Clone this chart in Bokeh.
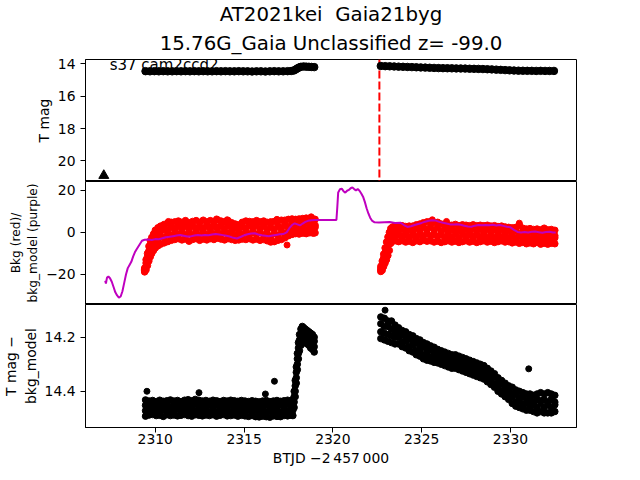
from bokeh.plotting import figure
from bokeh.layouts import column
from bokeh.models import Range1d, FixedTicker, CustomJSTickFormatter, Span, Title
from bokeh.embed import file_html
from bokeh.resources import INLINE
from bokeh.core.properties import value

# ---------------- data ----------------
title_lines = ["AT2021kei\u00a0 Gaia21byg", "15.76G_Gaia Unclassified z= -99.0"]
sector_label = "s37 cam2ccd2"
x_label = "BTJD \u22122\u2009457\u2009000"
x_ticks = [2310, 2315, 2320, 2325, 2330]
tmag_ticks = [14, 16, 18, 20]
bkg_ticks = [-20, 0, 20]
resid_ticks = [14.2, 14.4]

discovery_t = 2322.62
alert_t = [2307.1]
alert_mag = [20.9]

# Panel 1: T mag
tmag_t = [2309.45, 2309.7, 2309.95, 2310.2, 2310.45, 2310.7, 2310.95, 2311.2, 2311.45, 2311.7,
          2311.95, 2312.2, 2312.45, 2312.7, 2312.95, 2313.2, 2313.45, 2313.7, 2313.95, 2314.2,
          2314.45, 2314.7, 2314.95, 2315.2, 2315.45, 2315.7, 2315.95, 2316.2, 2316.45, 2316.7,
          2316.95, 2317.2, 2317.45, 2317.65, 2317.8, 2317.9, 2318.0, 2318.1, 2318.2, 2318.35,
          2318.5, 2318.65, 2318.8, 2318.95,
          2322.7, 2322.95, 2323.2, 2323.45, 2323.7, 2323.95, 2324.2, 2324.45, 2324.7, 2324.95,
          2325.2, 2325.45, 2325.7, 2325.95, 2326.2, 2326.45, 2326.7, 2326.95, 2327.2, 2327.45,
          2327.7, 2327.95, 2328.2, 2328.45, 2328.7, 2328.95, 2329.2, 2329.45, 2329.7, 2329.95,
          2330.2, 2330.45, 2330.7, 2330.95, 2331.2, 2331.45, 2331.7, 2331.95, 2332.2, 2332.45]
tmag = [14.46, 14.47, 14.46, 14.47, 14.46, 14.47, 14.47, 14.46, 14.47, 14.46,
        14.47, 14.46, 14.47, 14.46, 14.47, 14.47, 14.46, 14.47, 14.46, 14.47,
        14.47, 14.46, 14.47, 14.47, 14.48, 14.47, 14.47, 14.48, 14.47, 14.46,
        14.47, 14.47, 14.46, 14.45, 14.42, 14.36, 14.29, 14.23, 14.19, 14.17,
        14.18, 14.19, 14.20, 14.21,
        14.14, 14.15, 14.16, 14.17, 14.18, 14.19, 14.20, 14.21, 14.22, 14.23,
        14.24, 14.25, 14.26, 14.27, 14.275, 14.28, 14.285, 14.29, 14.295, 14.30,
        14.31, 14.315, 14.32, 14.33, 14.34, 14.35, 14.365, 14.38, 14.395, 14.41,
        14.42, 14.43, 14.435, 14.44, 14.44, 14.445, 14.44, 14.445, 14.445, 14.445]

# Panel 2: background flux (red points) per time stamp
bkg_seg1 = [
    (2309.40, -18.8, -18.2, -17.6, -17.0), (2309.48, -17.8, -16.2, -14.6, -13.0),
    (2309.56, -15.8, -13.6, -11.6, -10.0), (2309.64, -13.6, -11.2, -8.8, -6.6),
    (2309.72, -11.6, -9.0, -6.4, -4.0), (2309.80, -10.0, -7.4, -4.6, -2.4),
    (2309.90, -8.6, -5.8, -3.0, -0.8), (2310.00, -7.4, -4.6, -1.6, 1.0),
    (2310.15, -6.4, -3.0, -0.9, 2.2), (2310.30, -5.6, -2.2, 0.4, 3.0),
    (2310.50, -5.0, -2.4, 1.4, 3.8), (2310.70, -4.4, -0.8, 1.2, 4.4),
    (2310.90, -3.8, -1.4, 2.4, 4.8), (2311.10, -3.4, 0.0, 1.8, 5.0),
    (2311.30, -3.0, -0.8, 2.9, 5.4), (2311.50, -3.6, 0.2, 1.6, 4.8),
    (2311.70, -3.2, -1.0, 3.0, 5.6), (2311.90, -4.2, -0.4, 1.4, 4.6),
    (2312.10, -3.4, -1.0, 2.9, 5.2), (2312.30, -3.0, 0.6, 2.2, 5.6),
    (2312.50, -3.8, -1.4, 2.5, 4.8), (2312.70, -3.2, 0.4, 2.2, 5.8),
    (2312.90, -3.6, -1.2, 2.9, 5.0), (2313.10, -3.0, 0.6, 2.4, 5.6),
    (2313.30, -3.4, -1.0, 2.9, 5.2), (2313.50, -2.8, 0.8, 2.6, 6.0),
    (2313.70, -3.2, -0.8, 3.1, 5.4), (2313.90, -3.6, 0.0, 1.6, 5.0),
    (2314.10, -3.0, -0.6, 3.3, 5.6), (2314.30, -3.4, 0.0, 1.5, 4.6),
    (2314.50, -3.8, -1.6, 2.1, 4.0), (2314.70, -3.6, -0.4, 0.9, 3.6),
    (2314.90, -3.2, -1.0, 2.7, 4.8), (2315.10, -3.4, 0.2, 2.0, 5.4),
    (2315.30, -3.0, -0.6, 3.3, 5.2), (2315.50, -3.6, 0.0, 1.8, 5.0),
    (2315.70, -3.2, -0.8, 3.3, 5.6), (2315.90, -3.8, -0.2, 1.6, 5.0),
    (2316.10, -3.4, -1.0, 3.1, 5.4), (2316.30, -4.0, -0.4, 1.4, 4.8),
    (2316.50, -4.6, -2.0, 2.4, 5.0), (2316.70, -4.4, -0.6, 1.4, 5.2),
    (2316.90, -3.8, -1.4, 2.9, 5.4), (2317.10, -3.4, 0.2, 2.2, 5.8),
    (2317.30, -2.6, -0.4, 3.5, 5.8), (2317.50, -1.6, 1.4, 2.8, 6.2),
    (2317.70, -1.0, 0.6, 4.3, 6.4), (2317.90, -0.6, 2.2, 3.4, 6.2),
    (2318.10, -0.8, 0.8, 4.3, 6.4), (2318.30, -0.4, 2.4, 3.6, 6.6),
    (2318.50, -0.6, 1.0, 4.5, 6.8), (2318.70, -0.2, 2.6, 3.8, 6.8),
    (2318.90, -0.4, 1.2, 4.7, 6.4), (2319.00, -0.2, 2.4, 3.4, 6.2),
]
bkg_seg2 = [
    (2322.70, -18.6, -18.0, -17.2, -16.2), (2322.78, -18.0, -16.6, -15.0, -13.6),
    (2322.86, -16.2, -14.2, -12.2, -10.4), (2322.94, -14.6, -12.0, -9.6, -7.4),
    (2323.02, -13.0, -10.2, -7.2, -4.6), (2323.10, -11.0, -8.0, -5.0, -2.2),
    (2323.18, -8.6, -5.6, -2.6, 0.0), (2323.26, -5.2, -2.6, 0.0, 1.8),
    (2323.36, -4.2, -1.6, 0.6, 2.6), (2323.50, -4.0, -1.2, 1.0, 3.0),
    (2323.70, -4.4, -1.2, 0.0, 2.8), (2323.90, -4.0, -2.0, 1.6, 3.2),
    (2324.10, -4.6, -1.4, -0.2, 2.8), (2324.30, -4.2, -2.2, 1.4, 3.0),
    (2324.50, -4.8, -1.4, 0.0, 3.0), (2324.70, -4.0, -2.0, 1.8, 3.6),
    (2324.90, -4.4, -1.0, 0.6, 4.0), (2325.10, -3.8, -1.6, 2.4, 4.6),
    (2325.30, -4.2, -0.6, 1.2, 5.0), (2325.50, -4.0, -1.6, 2.6, 5.2),
    (2325.70, -4.6, -1.0, 1.0, 4.8), (2325.90, -4.2, -1.8, 2.4, 4.8),
    (2326.10, -4.8, -1.2, 0.4, 4.0), (2326.30, -4.4, -2.2, 1.6, 3.8),
    (2326.50, -4.0, -0.8, 0.6, 3.6), (2326.70, -4.6, -2.4, 1.4, 3.4),
    (2326.90, -4.2, -0.8, 0.6, 3.8), (2327.10, -4.8, -2.6, 1.2, 3.2),
    (2327.30, -4.4, -1.0, 0.4, 3.6), (2327.50, -4.0, -2.0, 1.8, 3.4),
    (2327.70, -4.6, -1.2, 0.2, 3.2), (2327.90, -4.2, -2.0, 1.8, 3.6),
    (2328.10, -4.8, -1.4, 0.0, 3.2), (2328.30, -4.4, -2.2, 1.6, 3.4),
    (2328.50, -4.0, -0.8, 0.4, 3.2), (2328.70, -4.6, -2.4, 1.4, 3.4),
    (2328.90, -4.2, -1.0, 0.4, 3.0), (2329.10, -4.8, -2.6, 1.2, 3.2),
    (2329.30, -4.4, -1.2, 0.0, 2.8), (2329.50, -4.0, -2.2, 1.4, 3.0),
    (2329.70, -4.6, -1.4, -0.2, 2.6), (2329.90, -4.4, -2.4, 1.0, 2.4),
    (2330.10, -5.0, -1.8, -0.6, 2.2), (2330.30, -4.6, -2.8, 0.8, 2.4),
    (2330.50, -5.2, -2.0, -0.6, 3.4), (2330.70, -4.8, -3.0, 0.4, 2.0),
    (2330.90, -5.4, -2.4, -1.2, 1.6), (2331.10, -5.0, -3.2, 0.4, 1.8),
    (2331.30, -5.4, -2.4, -1.4, 1.4), (2331.50, -4.8, -3.2, 0.2, 1.6),
    (2331.70, -5.6, -2.6, -1.6, 1.2), (2331.90, -5.2, -3.4, 0.0, 2.0),
    (2332.10, -5.6, -2.6, -1.6, 1.2), (2332.30, -5.2, -3.6, -0.2, 1.4),
    (2332.50, -5.4, -2.6, -1.6, 1.0),
]
bkg_extra_t = [2310.74, 2313.45, 2314.05, 2316.85, 2317.42, 2318.78, 2325.6, 2326.4, 2330.5]
bkg_extra_v = [5.2, 6.4, 6.0, 6.2, -6.0, 7.4, 6.0, 5.2, 4.4]

# Panel 2: background model (purple line)
model_t = [2307.18, 2307.22, 2307.28, 2307.36, 2307.45, 2307.55, 2307.65, 2307.75, 2307.85, 2307.95,
           2308.05, 2308.15, 2308.25, 2308.35, 2308.45, 2308.55, 2308.65, 2308.75, 2308.85, 2308.95,
           2309.1, 2309.25, 2309.4, 2309.6, 2309.8, 2310.0, 2310.2, 2310.4, 2310.6, 2310.8,
           2311.0, 2311.2, 2311.4, 2311.6, 2311.8, 2312.0, 2312.2, 2312.4, 2312.6, 2312.8,
           2313.0, 2313.2, 2313.4, 2313.6, 2313.8, 2314.0, 2314.2, 2314.4, 2314.6, 2314.8,
           2315.0, 2315.2, 2315.4, 2315.6, 2315.8, 2316.0, 2316.2, 2316.4, 2316.6, 2316.8,
           2317.0, 2317.2, 2317.4, 2317.55, 2317.7, 2317.85, 2318.0, 2318.15, 2318.3, 2318.45,
           2318.6, 2318.8, 2319.0, 2320.2, 2320.25, 2320.3, 2320.4, 2320.5, 2320.6, 2320.7,
           2320.8, 2320.9, 2321.0, 2321.1, 2321.2, 2321.3, 2321.4, 2321.5, 2321.6, 2321.7,
           2321.8, 2321.9, 2322.0, 2322.1, 2322.2, 2322.35, 2322.6, 2322.9, 2323.2, 2323.5,
           2323.8, 2324.0, 2324.2, 2324.4, 2324.6, 2324.8, 2325.0, 2325.2, 2325.4, 2325.6,
           2325.8, 2326.0, 2326.2, 2326.4, 2326.6, 2326.8, 2327.0, 2327.2, 2327.4, 2327.6,
           2327.8, 2328.0, 2328.2, 2328.4, 2328.6, 2328.8, 2329.0, 2329.2, 2329.4, 2329.6,
           2329.8, 2330.0, 2330.2, 2330.4, 2330.6, 2330.8, 2331.0, 2331.2, 2331.4, 2331.6,
           2331.8, 2332.0, 2332.2, 2332.4, 2332.55]
model_v = [-23.0, -24.3, -21.5, -21.0, -21.8, -23.5, -26.0, -28.5, -30.0, -31.0,
           -30.5, -28.0, -24.0, -20.0, -17.0, -15.5, -14.0, -11.5, -9.5, -8.0,
           -6.0, -4.0, -3.5, -3.4, -3.6, -3.2, -3.3, -2.8, -2.3, -2.1,
           -1.8, -1.5, -1.2, -1.6, -2.0, -1.9, -1.5, -1.3, -1.5, -1.2,
           -1.4, -1.0, -0.8, -1.0, -1.3, -1.6, -2.0, -2.6, -2.9, -2.2,
           -1.4, -0.9, -0.5, -0.4, -1.0, -1.4, -1.6, -1.8, -1.5, -1.2,
           -0.9, -0.8, 0.0, 2.0, 3.5, 4.3, 3.8, 3.3, 4.2, 5.0,
           5.5, 5.8, 5.9, 5.9, 12.0, 19.0, 20.5, 20.8, 19.6, 18.9,
           19.8, 20.2, 21.0, 21.4, 20.6, 20.0, 20.6, 19.8, 18.5, 17.0,
           14.5, 11.5, 9.0, 7.0, 5.6, 4.8, 4.7, 4.8, 4.9, 4.5,
           4.6, 3.5, 2.6, 2.9, 3.5, 4.0, 4.5, 5.1, 5.5, 5.8,
           5.6, 5.0, 4.6, 4.2, 3.8, 3.7, 3.9, 3.6, 3.2, 2.8,
           2.7, 3.2, 3.5, 3.4, 3.5, 3.4, 3.6, 3.3, 3.5, 3.1,
           2.7, 2.4, 1.2, 0.2, 0.0, 0.2, -0.1, 0.3, 0.4, 0.1,
           -0.2, 0.2, 0.3, -0.1, 0.0]

# Panel 3: T mag - bkg_model, per time stamp
resid_seg1 = [
    (2309.45, 14.432, 14.452, 14.472, 14.492), (2309.65, 14.436, 14.458, 14.466, 14.488),
    (2309.85, 14.434, 14.447, 14.472, 14.486), (2310.05, 14.438, 14.459, 14.470, 14.490),
    (2310.25, 14.433, 14.449, 14.474, 14.489), (2310.45, 14.437, 14.458, 14.468, 14.493),
    (2310.65, 14.435, 14.448, 14.473, 14.487), (2310.85, 14.432, 14.456, 14.467, 14.490),
    (2311.05, 14.436, 14.450, 14.475, 14.488), (2311.25, 14.434, 14.457, 14.466, 14.491),
    (2311.45, 14.438, 14.450, 14.476, 14.489), (2311.65, 14.433, 14.455, 14.465, 14.486),
    (2311.85, 14.431, 14.448, 14.474, 14.490), (2312.05, 14.435, 14.458, 14.470, 14.492),
    (2312.25, 14.430, 14.447, 14.473, 14.487), (2312.45, 14.433, 14.456, 14.467, 14.489),
    (2312.65, 14.436, 14.452, 14.476, 14.491), (2312.85, 14.434, 14.455, 14.466, 14.488),
    (2313.05, 14.437, 14.450, 14.475, 14.490), (2313.25, 14.433, 14.454, 14.466, 14.487),
    (2313.45, 14.435, 14.450, 14.476, 14.492), (2313.65, 14.438, 14.459, 14.468, 14.489),
    (2313.85, 14.434, 14.449, 14.473, 14.486), (2314.05, 14.436, 14.458, 14.470, 14.491),
    (2314.25, 14.433, 14.450, 14.475, 14.490), (2314.45, 14.435, 14.456, 14.466, 14.488),
    (2314.65, 14.437, 14.452, 14.476, 14.492), (2314.85, 14.434, 14.454, 14.467, 14.489),
    (2315.05, 14.436, 14.450, 14.475, 14.491), (2315.25, 14.438, 14.460, 14.471, 14.493),
    (2315.45, 14.435, 14.450, 14.474, 14.490), (2315.65, 14.437, 14.459, 14.470, 14.494),
    (2315.85, 14.439, 14.454, 14.479, 14.495), (2316.05, 14.436, 14.458, 14.470, 14.492),
    (2316.25, 14.434, 14.451, 14.477, 14.494), (2316.45, 14.438, 14.460, 14.472, 14.496),
    (2316.65, 14.436, 14.452, 14.476, 14.491), (2316.85, 14.434, 14.456, 14.469, 14.493),
    (2317.05, 14.437, 14.452, 14.478, 14.494), (2317.25, 14.435, 14.457, 14.469, 14.490),
    (2317.45, 14.433, 14.449, 14.474, 14.491), (2317.65, 14.436, 14.458, 14.470, 14.489),
    (2317.75, 14.430, 14.450, 14.470, 14.490), (2317.82, 14.400, 14.420, 14.440, 14.460),
    (2317.88, 14.360, 14.380, 14.400, 14.420), (2317.94, 14.310, 14.330, 14.350, 14.370),
    (2318.00, 14.260, 14.280, 14.300, 14.320), (2318.06, 14.220, 14.240, 14.260, 14.280),
    (2318.12, 14.190, 14.210, 14.230, 14.250), (2318.20, 14.170, 14.190, 14.210, 14.230),
    (2318.28, 14.160, 14.180, 14.200, 14.220), (2318.36, 14.165, 14.180, 14.200, 14.215),
    (2318.45, 14.170, 14.185, 14.200, 14.220), (2318.55, 14.175, 14.190, 14.205, 14.225),
    (2318.65, 14.180, 14.195, 14.210, 14.230), (2318.75, 14.185, 14.200, 14.220, 14.240),
    (2318.85, 14.190, 14.205, 14.225, 14.245), (2318.95, 14.200, 14.215, 14.235, 14.255),
]
resid_seg2 = [
    (2322.7, 14.125, 14.150, 14.180, 14.205), (2322.9, 14.130, 14.160, 14.185, 14.210),
    (2323.1, 14.140, 14.160, 14.190, 14.215), (2323.3, 14.140, 14.170, 14.195, 14.220),
    (2323.5, 14.155, 14.180, 14.200, 14.225), (2323.7, 14.165, 14.189, 14.201, 14.225),
    (2323.9, 14.175, 14.191, 14.219, 14.235), (2324.1, 14.180, 14.204, 14.216, 14.240),
    (2324.3, 14.190, 14.206, 14.234, 14.250), (2324.5, 14.195, 14.219, 14.231, 14.255),
    (2324.7, 14.205, 14.221, 14.249, 14.265), (2324.9, 14.210, 14.234, 14.246, 14.270),
    (2325.1, 14.220, 14.236, 14.264, 14.280), (2325.3, 14.225, 14.249, 14.261, 14.285),
    (2325.5, 14.232, 14.246, 14.274, 14.288), (2325.7, 14.237, 14.259, 14.271, 14.293),
    (2325.9, 14.245, 14.258, 14.282, 14.295), (2326.1, 14.250, 14.271, 14.279, 14.300),
    (2326.3, 14.255, 14.268, 14.292, 14.305), (2326.5, 14.260, 14.281, 14.289, 14.310),
    (2326.7, 14.265, 14.278, 14.302, 14.315), (2326.9, 14.265, 14.286, 14.294, 14.315),
    (2327.1, 14.270, 14.283, 14.307, 14.320), (2327.3, 14.275, 14.296, 14.304, 14.325),
    (2327.5, 14.280, 14.293, 14.317, 14.330), (2327.7, 14.285, 14.306, 14.314, 14.335),
    (2327.9, 14.290, 14.303, 14.327, 14.340), (2328.1, 14.295, 14.316, 14.324, 14.345),
    (2328.3, 14.300, 14.313, 14.337, 14.350), (2328.5, 14.305, 14.326, 14.334, 14.355),
    (2328.7, 14.315, 14.328, 14.352, 14.365), (2328.9, 14.325, 14.346, 14.354, 14.375),
    (2329.1, 14.335, 14.348, 14.372, 14.385), (2329.3, 14.350, 14.371, 14.379, 14.400),
    (2329.5, 14.360, 14.373, 14.397, 14.410), (2329.7, 14.370, 14.391, 14.399, 14.420),
    (2329.9, 14.380, 14.393, 14.417, 14.430), (2330.1, 14.385, 14.410, 14.420, 14.445),
    (2330.3, 14.395, 14.411, 14.439, 14.455), (2330.5, 14.400, 14.425, 14.435, 14.460),
    (2330.7, 14.405, 14.421, 14.449, 14.465), (2330.9, 14.410, 14.435, 14.445, 14.470),
    (2331.1, 14.410, 14.426, 14.454, 14.470), (2331.3, 14.415, 14.440, 14.450, 14.475),
    (2331.5, 14.410, 14.430, 14.460, 14.480), (2331.7, 14.405, 14.435, 14.445, 14.475),
    (2331.9, 14.410, 14.430, 14.460, 14.480), (2332.1, 14.405, 14.440, 14.450, 14.480),
    (2332.3, 14.410, 14.430, 14.460, 14.480), (2332.5, 14.415, 14.440, 14.450, 14.475),
]
resid_extra_t = [2309.53, 2312.46, 2316.2, 2316.71, 2322.94, 2331.03]
resid_extra_m = [14.400, 14.405, 14.410, 14.363, 14.100, 14.317]


def flatten(rows):
    xs, ys = [], []
    for r in rows:
        for v in r[1:]:
            xs.append(r[0])
            ys.append(v)
    return xs, ys


FONT = "DejaVu Sans"
FS = "13.9px"
FRAME_H = 123
LEFT, FRAME_W, RIGHT = 80, 496, 50
x_range = Range1d(2306.07, 2333.72)
minus_fmt = CustomJSTickFormatter(code="return (tick < 0 ? '\\u2212' : '') + Math.abs(tick).toString();")


def make(top, bottom, y_range, yticks, ylabel, label_size=FS, show_x=False):
    p = figure(x_range=x_range, y_range=y_range, width=LEFT + FRAME_W + RIGHT,
               height=top + FRAME_H + bottom,
               output_backend="svg", toolbar_location=None,
               min_border_left=LEFT, min_border_right=RIGHT,
               min_border_top=top, min_border_bottom=bottom,
               x_axis_location="below" if show_x else None)
    p.xgrid.visible = False
    p.ygrid.visible = False
    p.outline_line_color = "black"
    p.outline_line_width = 1
    p.outline_line_alpha = 1
    p.background_fill_color = "white"
    p.border_fill_color = "white"
    axes = list(p.yaxis) + (list(p.xaxis) if show_x else [])
    for ax in axes:
        ax.axis_line_color = "black"
        ax.major_tick_line_color = "black"
        ax.major_tick_out = 5
        ax.major_tick_in = 0
        ax.minor_tick_out = 0
        ax.minor_tick_in = 0
        ax.major_label_text_font = FONT
        ax.major_label_text_font_size = FS
        ax.major_label_text_color = "black"
        ax.axis_label_text_font = FONT
        ax.axis_label_text_font_size = FS
        ax.axis_label_text_font_style = "normal"
        ax.axis_label_text_color = "black"
    ya = p.yaxis[0]
    ya.ticker = FixedTicker(ticks=yticks)
    ya.axis_label = ylabel
    ya.axis_label_text_font_size = label_size
    ya.major_label_standoff = 5
    ya.axis_label_standoff = 3
    if show_x:
        xa = p.xaxis[0]
        xa.ticker = FixedTicker(ticks=x_ticks)
        xa.axis_label = x_label
        xa.major_label_standoff = 1
        xa.axis_label_standoff = 3
    return p


# ---------- panel 1 ----------
p1 = make(58, 0, Range1d(21.27, 13.74), tmag_ticks, "T mag")
p1.title.text = title_lines[0]
p1.title.align = "center"
p1.title.text_font = FONT
p1.title.text_font_size = "19.8px"
p1.title.text_font_style = "normal"
p1.title.text_color = "black"
p1.title.standoff = 0
p1.add_layout(Title(text=title_lines[1], align="center", text_font=FONT,
                    text_font_size="19.8px", text_font_style="normal",
                    text_color="black", text_line_height=0.9, standoff=9), "above")
disc = Span(location=discovery_t, dimension="height", line_color="red",
            line_width=2, line_dash="8 3", level="underlay")
p1.add_layout(disc)
p1.scatter(tmag_t, tmag, size=7.5, color="black")
p1.scatter(alert_t, alert_mag, marker="triangle", size=10, color="black")
p1.text(x=[2307.43], y=[14.05], text=[sector_label], text_font=value(FONT),
        text_font_size="15px", text_baseline="alphabetic", text_align="left", text_color="black")

# ---------- panel 2 ----------
p2 = make(0, 0, Range1d(-34.3, 24.2), bkg_ticks, "Bkg (red)/\nbkg_model (purple)",
          label_size="12.2px")
p2.yaxis[0].formatter = minus_fmt
for seg in (bkg_seg1, bkg_seg2):
    bx, by = flatten(seg)
    p2.scatter(bx, by, size=6.5, color="red")
p2.scatter(bkg_extra_t, bkg_extra_v, size=6, color="red")
p2.line(model_t, model_v, line_color="#bf00bf", line_width=2)

# ---------- panel 3 ----------
p3 = make(0, 50, Range1d(14.534, 14.079), resid_ticks, "T mag \u2212\nbkg_model", show_x=True)
for seg in (resid_seg1, resid_seg2):
    rx, ry = flatten(seg)
    p3.scatter(rx, ry, size=6.5, color="black")
p3.scatter(resid_extra_t, resid_extra_m, size=6, color="black")

layout = column(p1, p2, p3, spacing=0)
open("out.html", "w", encoding="utf-8").write(file_html(layout, INLINE))
